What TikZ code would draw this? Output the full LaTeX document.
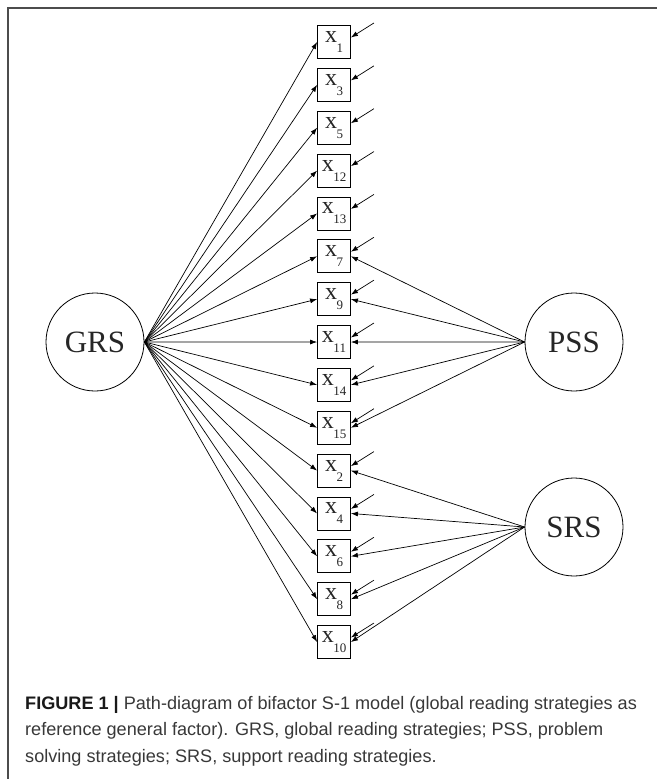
\documentclass[tikz,border=0pt]{standalone}
\usepackage{fontspec}
\setmainfont{Liberation Serif}
\setsansfont{Liberation Sans}
\usepackage{tikz}
\usetikzlibrary{arrows.meta}
\tikzset{%Global config
	>={Latex[length=7pt,width=5pt]},
	color = black!85,
	%Styles
	Factor/.style={
		circle,
		draw,
		line width=0.8pt,
		minimum size=98pt,
		inner sep=0pt,
		font=\fontsize{31}{31}\selectfont,
	},
	Item/.style={
		draw,
		line width=0.8pt,
		minimum size=33pt,
		inner sep=0pt,
		font=\fontsize{24}{24}\selectfont,
	},
	Load/.style={
		->,
		line width=0.7pt,
	},
	Frame/.style={
		line width=1.5pt,
		draw=black!70,
	}
}
\newcommand{\itemlabel}[1]{x\kern-0.5pt\raisebox{-10pt}{\fontsize{13}{13}\selectfont #1}}

\begin{document}
\begin{tikzpicture}[x=1pt,y=-1pt]
	\useasboundingbox (0,0) rectangle (657,779);
	\draw[Frame] (8,779) -- (8,8) -- (657,8);
	
	% Factors
	\node[Factor] (GRS) at (95,342) {GRS};
	\node[Factor] (PSS) at (574,342) {PSS};
	\node[Factor] (SRS) at (574,527) {SRS};
	
	% Items, errors and general loadings
	\foreach \n [count=\i from 0] in {1,3,5,12,13,7,9,11,14,15,2,4,6,8,10}{
		\node[Item] (x\n) at (334,42+42.86*\i) {\itemlabel{\n}};
		\coordinate (e\n) at ([shift={(23,-19)}]x\n.east);
		\draw[Load] (e\n) -- (x\n.15);
		\draw[Load] (GRS.east) -- (x\n.west);
	}
	
	% Specific factors
	\foreach \n in {7,9,11,14,15} \draw[Load] (PSS.west) -- (x\n.east);
	\foreach \n in {2,4,6,8,10} \draw[Load] (SRS.west) -- (x\n.east);
	
	% Caption
	\node[anchor=north west, align=left, inner sep=0pt, text=black!78,
		font=\sffamily\fontsize{18.1}{26.6}\selectfont] (cap) at (25,696)
		{\textbf{\color{black!90}FIGURE 1 |} Path-diagram of bifactor S-1 model (global reading strategies as\\
		reference general factor). GRS, global reading strategies; PSS, problem\\
		solving strategies; SRS, support reading strategies.};
\end{tikzpicture}
\end{document}
